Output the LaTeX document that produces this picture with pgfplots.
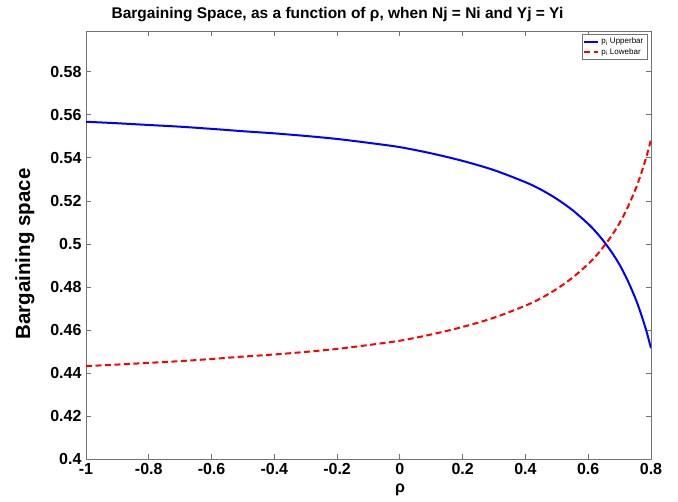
\documentclass[border=0pt]{standalone}
\usepackage{pgfplots}
\pgfplotsset{compat=1.18}
\usepackage{fontspec}
\setmainfont{Liberation Sans}
\definecolor{mblue}{RGB}{0,0,255}
\definecolor{mred}{RGB}{255,0,0}
\begin{document}
\begin{tikzpicture}
\useasboundingbox (-86pt,-43pt) rectangle (592pt,459pt);
\begin{axis}[
  at={(0,0)}, anchor=south west,
  scale only axis, width=565pt, height=428pt,
  xmin=-1, xmax=0.8, ymin=0.4, ymax=0.599,
  xtick={-1,-0.8,-0.6,-0.4,-0.2,0,0.2,0.4,0.6,0.8},
  ytick={0.4,0.42,0.44,0.46,0.48,0.5,0.52,0.54,0.56,0.58},
  tick align=inside, major tick length=5pt,
  axis line style={black!55, line width=0.8pt},
  tick style={black!55, line width=0.8pt},
  /pgf/number format/assume math mode=true,
  /pgf/number format/fixed, /pgf/number format/precision=2,
  ticklabel style={font=\fontsize{16}{16}\selectfont\bfseries},
  xticklabel style={yshift=-1pt},
  yticklabel style={xshift=-1pt},
  title={Bargaining Space, as a function of ρ, when Nj = Ni and Yj = Yi},
  title style={at={(axis description cs:0.445,1.025)}, anchor=center, font=\fontsize{15.5}{15.5}\selectfont\bfseries},
  xlabel={ρ},
  xlabel style={at={(axis description cs:0.556,-0.072)}, anchor=center, font=\fontsize{16}{16}\selectfont\bfseries},
  ylabel={Bargaining space},
  ylabel style={at={(axis description cs:-0.108,0.479)}, anchor=center, font=\fontsize{20.5}{20.5}\selectfont\bfseries},
  legend style={at={(axis description cs:0.993,0.992)}, anchor=north east, draw=black!55, font=\fontsize{8}{9}\selectfont, inner sep=1.5pt, row sep=-1pt},
  legend cell align=left,
  legend image code/.code={\draw[#1] (0pt,0pt) -- (14pt,0pt);},
]
\addplot[mblue, line width=2pt, smooth] coordinates {
(-1.0,0.5568) (-0.9,0.5561) (-0.8,0.5553) (-0.7,0.5545) (-0.6,0.5535)
(-0.5,0.5524) (-0.4,0.5514) (-0.3,0.5502) (-0.2,0.5488) (-0.1,0.5470)
(0.0,0.5450) (0.1,0.5421) (0.2,0.5386) (0.3,0.5343) (0.4,0.5287)
(0.45,0.5252) (0.5,0.5209) (0.55,0.5157) (0.6,0.5093) (0.625,0.5055)
(0.65,0.5011) (0.675,0.4961) (0.7,0.4903) (0.725,0.4832) (0.75,0.4748)
(0.7625,0.4699) (0.775,0.4644) (0.7875,0.4584) (0.8,0.4515)
};
\addlegendentry{p\textsubscript{i} Upperbar}
\addplot[mred, line width=2pt, dash pattern=on 6pt off 3.5pt, smooth] coordinates {
(-1.0,0.4432) (-0.9,0.4439) (-0.8,0.4447) (-0.7,0.4455) (-0.6,0.4465)
(-0.5,0.4476) (-0.4,0.4486) (-0.3,0.4498) (-0.2,0.4512) (-0.1,0.4530)
(0.0,0.4550) (0.1,0.4579) (0.2,0.4614) (0.3,0.4657) (0.4,0.4713)
(0.45,0.4748) (0.5,0.4791) (0.55,0.4843) (0.6,0.4907) (0.625,0.4945)
(0.65,0.4989) (0.675,0.5039) (0.7,0.5097) (0.725,0.5168) (0.75,0.5252)
(0.7625,0.5301) (0.775,0.5356) (0.7875,0.5416) (0.8,0.5485)
};
\addlegendentry{p\textsubscript{i} Lowebar}
\end{axis}
\end{tikzpicture}
\end{document}
